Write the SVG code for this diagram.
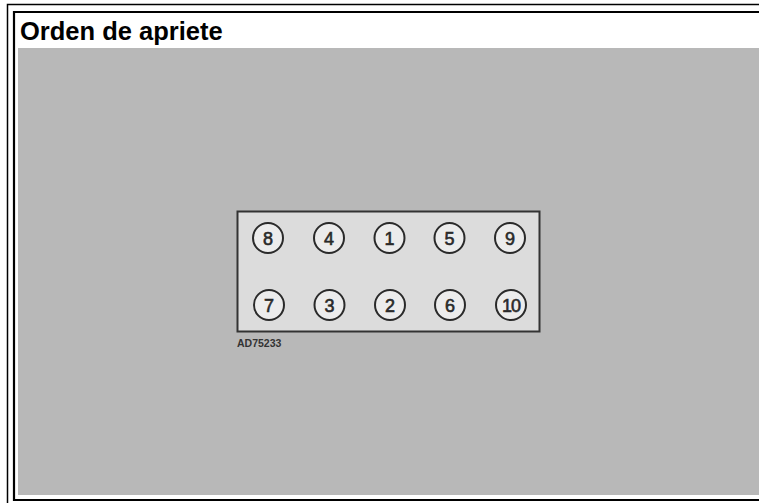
<svg xmlns="http://www.w3.org/2000/svg" width="759" height="503" viewBox="0 0 759 503">
<style>
.bolt circle{fill:#ececec;stroke:#2a2a2a;stroke-width:2}
.bolt text{font-family:"Liberation Sans",Arial,sans-serif;font-size:18px;fill:#2a2a2a;text-anchor:middle;font-weight:normal;stroke:#2a2a2a;stroke-width:0.6}
</style>
<rect x="0" y="0" width="759" height="503" fill="#ffffff"/>
<path d="M7.5 503 V4.5 H759" fill="none" stroke="#000" stroke-width="1.5"/>
<path d="M759 12 H14 V500 H759" fill="none" stroke="#000" stroke-width="2.2"/>
<text x="20" y="40" font-family="Liberation Sans, Arial, sans-serif" font-size="25.5" font-weight="bold" fill="#000">Orden de apriete</text>
<rect x="18" y="48" width="741" height="447" fill="#b8b8b8"/>
<g id="block">
<rect x="237.5" y="211.5" width="302" height="120" fill="#dcdcdc" stroke="#333" stroke-width="2"/>
</g>
<g id="b8" class="bolt"><circle cx="268" cy="238" r="15"/><text x="268" y="244.5">8</text></g>
<g id="b4" class="bolt"><circle cx="329" cy="238" r="15"/><text x="329" y="244.5">4</text></g>
<g id="b1" class="bolt"><circle cx="389.5" cy="238" r="15"/><text x="389.5" y="244.5">1</text></g>
<g id="b5" class="bolt"><circle cx="449.5" cy="238" r="15"/><text x="449.5" y="244.5">5</text></g>
<g id="b9" class="bolt"><circle cx="510" cy="238" r="15"/><text x="510" y="244.5">9</text></g>
<g id="b7" class="bolt"><circle cx="269" cy="305" r="15"/><text x="269" y="311.5">7</text></g>
<g id="b3" class="bolt"><circle cx="329.5" cy="305" r="15"/><text x="329.5" y="311.5">3</text></g>
<g id="b2" class="bolt"><circle cx="390" cy="305" r="15"/><text x="390" y="311.5">2</text></g>
<g id="b6" class="bolt"><circle cx="450" cy="305" r="15"/><text x="450" y="311.5">6</text></g>
<g id="b10" class="bolt"><circle cx="511" cy="305" r="15"/><text x="511" y="311.5" letter-spacing="-1">10</text></g>
<text x="237" y="346.5" font-family="Liberation Sans, Arial, sans-serif" font-size="10.5" font-weight="bold" fill="#333">AD75233</text>
<g id="connectors"/>
</svg>
